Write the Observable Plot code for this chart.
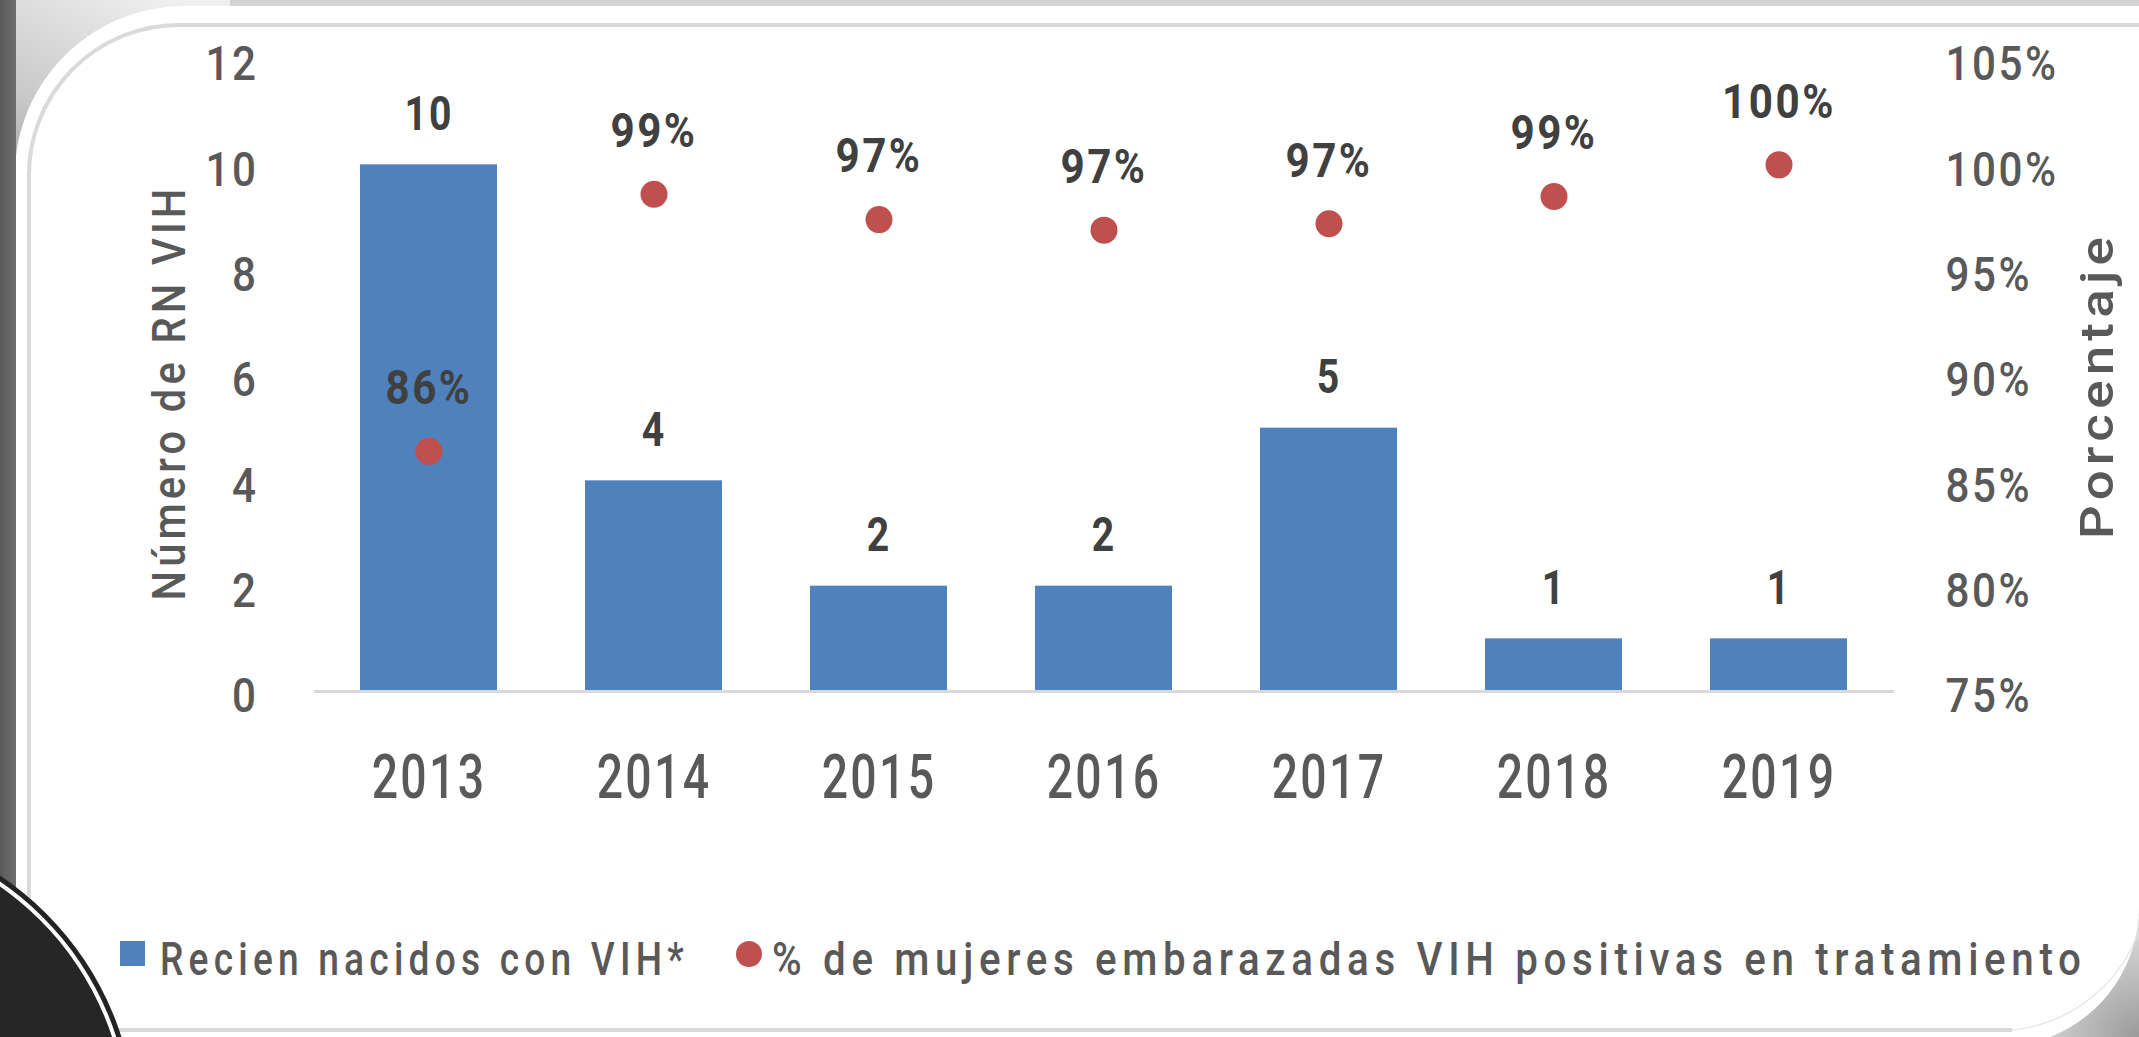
<!DOCTYPE html>
<html>
<head>
<meta charset="utf-8">
<script src="https://cdn.jsdelivr.net/npm/d3@7"></script>
<script src="https://cdn.jsdelivr.net/npm/@observablehq/plot@0.6"></script>
<style>
  html, body { margin: 0; padding: 0; background: #fff; }
  #wrap { position: relative; width: 2139px; height: 1037px; overflow: hidden; font-family: Roboto, "DejaVu Sans", sans-serif; }
  #deco, #chart, #legend { position: absolute; left: 0; top: 0; }
</style>
</head>
<body>
<div id="wrap">
  <svg id="deco" width="2139" height="1037" xmlns="http://www.w3.org/2000/svg">
    <defs>
      <linearGradient id="tl" gradientUnits="userSpaceOnUse" x1="15" y1="300" x2="175" y2="5">
        <stop offset="0" stop-color="#7c7c7c"/>
        <stop offset="0.55" stop-color="#c9c9c9"/>
        <stop offset="1" stop-color="#efefef"/>
      </linearGradient>
      <radialGradient id="br" gradientUnits="userSpaceOnUse" cx="2139" cy="1037" r="170">
        <stop offset="0" stop-color="#9a9a9a"/>
        <stop offset="1" stop-color="#ffffff"/>
      </radialGradient>
      <linearGradient id="strip" x1="0" y1="0" x2="1" y2="0">
        <stop offset="0" stop-color="#5a5a5a"/>
        <stop offset="1" stop-color="#6e6e6e"/>
      </linearGradient>
    </defs>
    <rect width="2139" height="1037" fill="#fff"/>
    <rect x="0" y="0" width="2139" height="6" fill="#d3d3d3"/>
    <rect x="0" y="0" width="230" height="320" fill="url(#tl)"/>
    <rect x="1960" y="850" width="179" height="187" fill="url(#br)"/>
    <path d="M15,1037 L15,185 A170,170 0 0 1 185,6 L2139,6 L2139,905 A140,140 0 0 1 2050,1037 Z" fill="#fff"/>
    <rect x="0" y="0" width="16" height="1037" fill="url(#strip)"/>
    <path d="M29,1030 L29,178 A150,150 0 0 1 179,25 L2139,25" fill="none" stroke="#dadada" stroke-width="4"/>
    <path d="M29,1030 L2012,1030" fill="none" stroke="#dadada" stroke-width="4"/>
    <path d="M2012,1030 A150,150 0 0 0 2139,930" fill="none" stroke="#e4e4e4" stroke-width="1.2"/>
    <circle cx="-170" cy="1130" r="306" fill="#232323"/>
    <circle cx="-170" cy="1130" r="301" fill="#ffffff"/>
    <circle cx="-170" cy="1130" r="297" fill="#262626"/>
  </svg>
  <div id="chart"></div>
  <svg id="legend" width="2139" height="1037" xmlns="http://www.w3.org/2000/svg"></svg>
</div>
<script>
// ---- data ----
const years = ["2013", "2014", "2015", "2016", "2017", "2018", "2019"];
const newborns = [10, 4, 2, 2, 5, 1, 1];
const pctTreated = [86.4, 98.6, 97.4, 96.9, 97.2, 98.5, 100];
const pctLabels = ["86%", "99%", "97%", "97%", "97%", "99%", "100%"];
const leftTicks = [0, 2, 4, 6, 8, 10, 12];
const rightTickLabels = ["75%", "80%", "85%", "90%", "95%", "100%", "105%"];
const rightMin = 75, rightMax = 105;
const leftMax = 12;
const seriesNames = ["Recien nacidos con VIH*", "% de mujeres embarazadas VIH positivas en tratamiento"];
const axisTitles = ["Número de RN VIH", "Porcentaje"];

const rows = years.map((year, i) => ({
  year,
  n: newborns[i],
  pctY: (pctTreated[i] - rightMin) / (rightMax - rightMin) * leftMax,
  pctLabel: pctLabels[i]
}));

const FONT = 'Roboto, "DejaVu Sans", sans-serif';
const BLUE = "#4f81bd", RED = "#c0504d";

const chart = Plot.plot({
  width: 2139,
  height: 860,
  marginLeft: 314,
  marginRight: 245,
  marginTop: 59,
  marginBottom: 169,
  x: { domain: years, paddingInner: 0.39, paddingOuter: 0.195, axis: null },
  y: { domain: [0, leftMax], axis: null },
  style: { background: "transparent", color: "#595959", fontFamily: FONT, maxWidth: "none", overflow: "visible" },
  marks: [
    Plot.barY(rows, { x: "year", y: "n", fill: BLUE }),
    Plot.ruleY([0], { stroke: "#d9d9d9", strokeWidth: 3 }),
    Plot.axisX({ tickSize: 0, tickPadding: 63, fontSize: 61, fontWeight: 500, label: null }),
    Plot.axisY({ ticks: leftTicks, anchor: "left", tickSize: 0, tickPadding: 56, fontSize: 49, fontWeight: 500, dy: 5, label: null }),
    Plot.axisY({ ticks: leftTicks, anchor: "right", tickSize: 0, tickPadding: 51, fontSize: 49, fontWeight: 500, dy: 5, label: null,
                 tickFormat: d => rightTickLabels[leftTicks.indexOf(d)] }),
    Plot.dot(rows, { x: "year", y: "pctY", r: 13.5, fill: RED }),
    Plot.text(rows, { x: "year", y: "n", text: d => String(d.n), dy: -51, fontSize: 49, fontWeight: "bold", fill: "#404040", ariaDescription: "bar-labels" }),
    Plot.text(rows, { x: "year", y: "pctY", text: "pctLabel", dy: -63, fontSize: 49, fontWeight: "bold", fill: "#404040", ariaDescription: "pct-labels" }),
    Plot.text([axisTitles[0]], { text: d => d, frameAnchor: "left", textAnchor: "middle", dx: -144, dy: 17, rotate: -90, fontSize: 46, fontWeight: 500, fill: "#595959", ariaDescription: "ytitle-left" }),
    Plot.text([axisTitles[1]], { text: d => d, frameAnchor: "right", textAnchor: "middle", dx: 204, dy: 10, rotate: -90, fontSize: 46, fontWeight: 500, fill: "#595959", ariaDescription: "ytitle-right" })
  ]
});
document.getElementById("chart").appendChild(chart);

// condensed, tracked lettering (the original uses a condensed typeface)
function condense(sel, spacing, k, fixed) {
  sel.style("letter-spacing", spacing);
  sel.each(function () {
    const L = fixed != null ? fixed : this.getComputedTextLength() * k;
    this.setAttribute("textLength", L);
    this.setAttribute("lengthAdjust", "spacingAndGlyphs");
  });
}
const svg = d3.select(chart);
condense(svg.selectAll('g[aria-label="x-axis tick label"] text'), "0.05em", 0.76);
condense(svg.selectAll('g[aria-label="y-axis tick label"] text'), "0.06em", 0.86);
condense(svg.selectAll('g[aria-description="bar-labels"] text'), "0.05em", 0.8);
condense(svg.selectAll('g[aria-description="pct-labels"] text'), "0.06em", 0.86);
condense(svg.selectAll('g[aria-description="ytitle-left"] text'), "0.1em", null, 416);
condense(svg.selectAll('g[aria-description="ytitle-right"] text'), "0.1em", null, 307);

// ---- legend (horizontally squeezed with a transform so its box stays in place) ----
const leg = d3.select("#legend");
function legendText(x, y, width, str) {
  const t = leg.append("text").attr("x", 0).attr("y", 0).attr("font-size", 47).attr("font-weight", 500)
    .attr("font-family", FONT).attr("fill", "#595959").style("letter-spacing", "0.14em").text(str);
  const w = t.node().getComputedTextLength();
  t.attr("transform", `translate(${x},${y}) scale(${width / w},1)`);
  return t;
}
leg.append("rect").attr("x", 120).attr("y", 941).attr("width", 25).attr("height", 25).attr("fill", BLUE);
legendText(160, 975, 529, seriesNames[0]);
leg.append("circle").attr("cx", 749).attr("cy", 954).attr("r", 13).attr("fill", RED);
legendText(772, 975, 1315, seriesNames[1]);
</script>
</body>
</html>
